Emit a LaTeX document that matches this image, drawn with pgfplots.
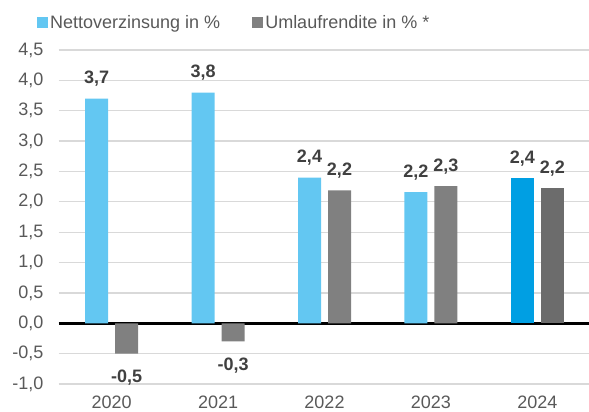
\documentclass[border=0pt]{standalone}
\usepackage{pgfplots}
\pgfplotsset{compat=1.18}
\usepackage{fontspec}
\setmainfont{Liberation Sans}
\definecolor{lblue}{RGB}{99,199,242}
\definecolor{dblue}{RGB}{0,159,227}
\definecolor{mgray}{RGB}{128,128,128}
\definecolor{dgray}{RGB}{108,108,108}
\definecolor{ticktext}{RGB}{89,89,89}
\definecolor{labeltext}{RGB}{64,64,64}
\definecolor{gridc}{RGB}{217,217,217}
\newcommand{\chartfont}{\fontsize{18bp}{21bp}\selectfont}
\pgfplotsset{
  sqlegend/.style={legend image code/.code={\fill[##1] (0bp,-5.5bp) rectangle (11bp,5.5bp);}},
  poslabel/.style={nodes near coords, every node near coord/.append style={anchor=base, yshift=15bp, xshift=#1, font=\chartfont\bfseries, text=labeltext}},
  neglabel/.style={nodes near coords, every node near coord/.append style={anchor=base, yshift=-29bp, xshift=#1, font=\chartfont\bfseries, text=labeltext}},
}
\begin{document}
\chartfont
\begin{tikzpicture}
\path[use as bounding box] (0,0) rectangle (589bp,412bp);
\begin{axis}[
  at={(58.5bp,28bp)}, anchor=south west,
  scale only axis, width=532bp, height=334bp,
  xmin=-0.5, xmax=4.5, ymin=-1, ymax=4.5,
  xtick={0,1,2,3,4}, xticklabels={2020,2021,2022,2023,2024},
  ytick={-1,-0.5,0,0.5,1,1.5,2,2.5,3,3.5,4,4.5},
  /pgf/number format/.cd, fixed, fixed zerofill, precision=1, use comma, assume math mode=true,
  /pgfplots/.cd,
  axis line style={draw=none},
  major tick length=0pt,
  ymajorgrids,
  grid style={color=gridc, line width=1.2bp},
  extra y ticks={0}, extra y tick labels={},
  extra y tick style={grid style={color=black, line width=2.5bp}},
  tick label style={font=\chartfont, text=ticktext},
  yticklabel style={xshift=-9bp},
  xticklabel style={yshift=-6bp},
  legend columns=2,
  legend style={at={(rel axis cs:0,1)}, anchor=west, xshift=-21.5bp, yshift=27bp,
    draw=none, fill=none, inner sep=0pt, font=\chartfont, text=ticktext,
    /tikz/every even column/.append style={column sep=30bp}},
]
\addplot[ybar, bar width=23bp, bar shift=-15bp, fill=lblue, draw=none, sqlegend, poslabel=-15bp]
  coordinates {(0,3.7) (1,3.8) (2,2.4) (3,2.16)};
\addlegendentry{Nettoverzinsung in \%}
\addplot[ybar, bar width=23bp, bar shift=15bp, fill=mgray, draw=none, sqlegend, poslabel=15bp]
  coordinates {(2,2.19) (3,2.26)};
\addlegendentry{Umlaufrendite in \% *}
\addplot[ybar, bar width=23bp, bar shift=15bp, fill=mgray, draw=none, neglabel=15bp, forget plot]
  coordinates {(0,-0.5) (1,-0.3)};
\addplot[ybar, bar width=23bp, bar shift=-15bp, fill=dblue, draw=none, poslabel=-15bp, forget plot]
  coordinates {(4,2.39)};
\addplot[ybar, bar width=23bp, bar shift=15bp, fill=dgray, draw=none, poslabel=15bp, forget plot]
  coordinates {(4,2.22)};
\end{axis}
\end{tikzpicture}
\end{document}
